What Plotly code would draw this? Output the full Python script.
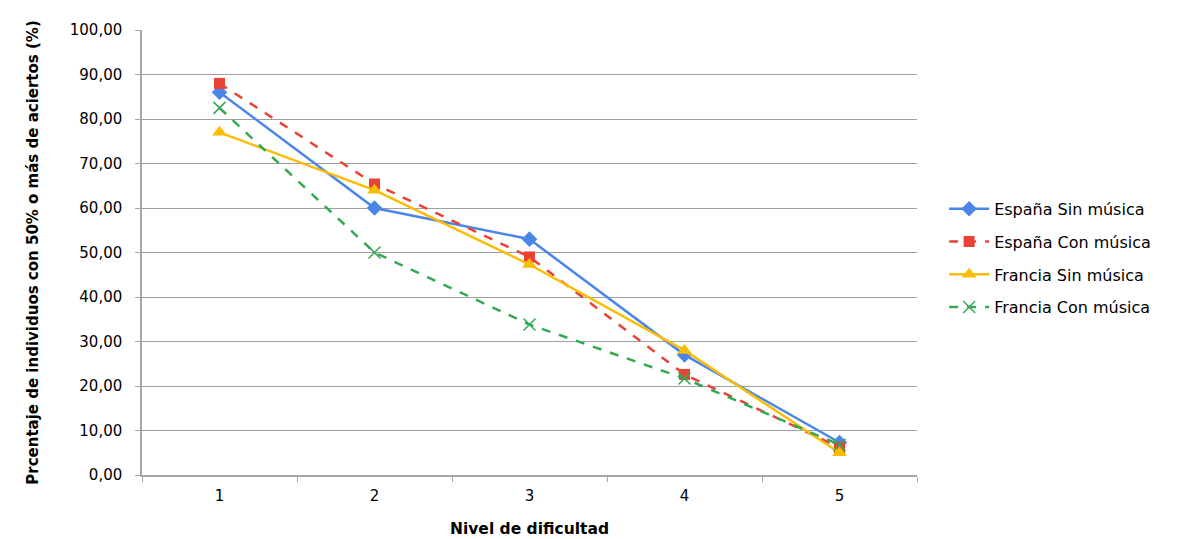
import plotly.graph_objects as go

niveles = ["1", "2", "3", "4", "5"]
espana_sin = [86.0, 60.0, 53.0, 27.0, 7.3]
espana_con = [88.0, 65.4, 49.0, 22.6, 6.2]
francia_sin = [77.0, 64.0, 47.3, 28.0, 5.0]
francia_con = [82.5, 50.0, 33.8, 21.7, 6.8]

series = [
    ("España Sin música", espana_sin, "#4A86E8", "solid", "diamond", 12, 0),
    ("España Con música", espana_con, "#EA4335", "dash", "square", 11, 0),
    ("Francia Sin música", francia_sin, "#FBBC04", "solid", "triangle-up", 13, 0),
    ("Francia Con música", francia_con, "#34A853", "dash", "x-thin", 12, 1.5),
]

fig = go.Figure()
for i, (name, vals, color, dash, sym, size, lw) in enumerate(series):
    marker = dict(symbol=sym, size=size, color=color)
    if lw:
        marker["line"] = dict(color=color, width=lw)
    fig.add_trace(go.Scatter(
        x=niveles, y=vals, name=name, mode="lines+markers",
        line=dict(color=color, width=2.5, dash=dash),
        marker=marker, legendgroup=f"g{i}",
    ))

fig.update_layout(
    width=1188, height=539,
    margin=dict(l=134, r=279, t=22, b=72, autoexpand=False),
    paper_bgcolor="white", plot_bgcolor="white",
    font=dict(family="DejaVu Sans, sans-serif", size=15, color="#000000"),
    separators=",.",
    showlegend=True,
    legend=dict(x=1.035, y=0.487, xanchor="left", yanchor="middle",
                font=dict(size=16), tracegroupgap=9, itemwidth=40,
                bgcolor="rgba(0,0,0,0)"),
)
fig.update_xaxes(
    type="category", range=[-0.5, 4.5], tickson="boundaries", ticks="outside", ticklen=5,
    tickcolor="#A6A6A6", showline=True, linecolor="#A6A6A6", linewidth=1.5,
    showgrid=False, tickfont=dict(size=15), ticklabelstandoff=6, automargin=False,
    title=dict(text="<b>Nivel de dificultad</b>", font=dict(size=15.5), standoff=19),
)
fig.update_yaxes(
    range=[0, 100], dtick=10, tickformat=".2f", ticks="outside", ticklen=5,
    tickcolor="#A6A6A6", showline=True, linecolor="#A6A6A6", linewidth=1.5,
    showgrid=True, gridcolor="#A0A0A0", gridwidth=1, zeroline=False,
    tickfont=dict(size=15), ticklabelstandoff=10, automargin=False,
    title=dict(text="<b>Prcentaje de individuos con 50% o más de aciertos (%)</b>",
               font=dict(size=15), standoff=28),
)

fig.write_html("out.html")
